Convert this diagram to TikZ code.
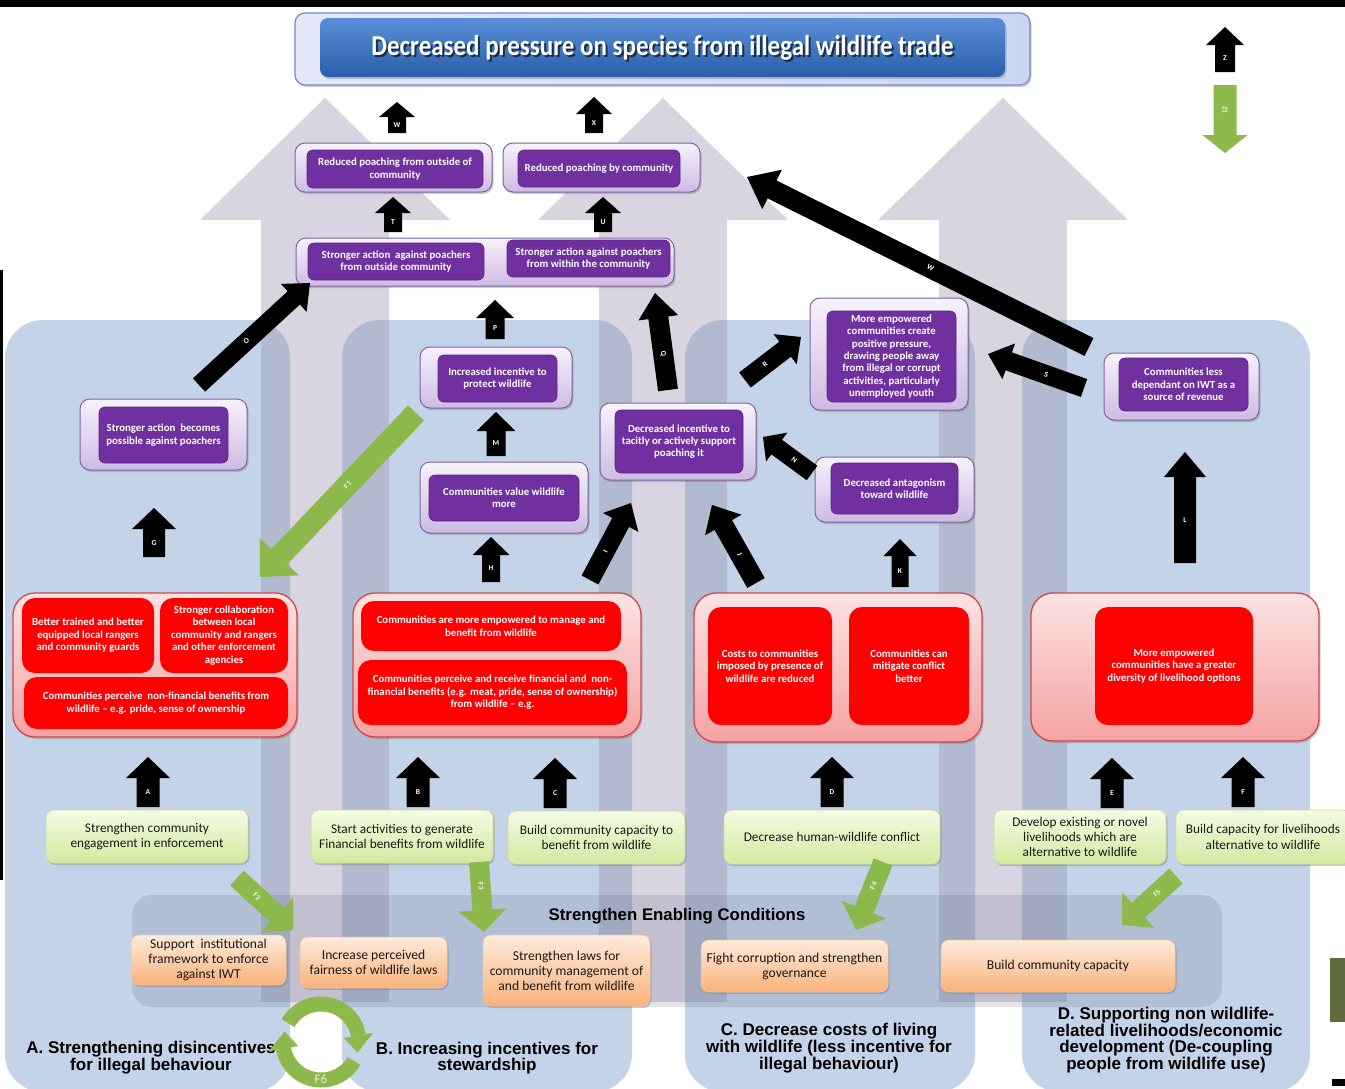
\documentclass[tikz,border=0pt]{standalone}
\usepackage{fontspec}
\usepackage{graphicx}
\setmainfont{Carlito}
\newfontfamily\arialfont{Liberation Sans}
\usetikzlibrary{calc,shadows}
\definecolor{greyarrow}{HTML}{D8D4E0}
\definecolor{panelblue}{HTML}{C3D4E8}
\definecolor{paneldark}{HTML}{B1BACE}
\definecolor{purp}{HTML}{7030A0}
\definecolor{purpdark}{HTML}{5A2582}
\definecolor{purpframe}{HTML}{8064A2}
\definecolor{lavtop}{HTML}{F7F2FC}
\definecolor{lavbot}{HTML}{CDBBE3}
\definecolor{redframe}{HTML}{D0484A}
\definecolor{pinktop}{HTML}{FCE2E2}
\definecolor{pinkbot}{HTML}{F5A3A3}
\definecolor{grtop}{HTML}{F4FBE4}
\definecolor{grbot}{HTML}{D2EAA0}
\definecolor{grline}{HTML}{C9DF9E}
\definecolor{ortop}{HTML}{FDEBDC}
\definecolor{orbot}{HTML}{F9B27A}
\definecolor{orline}{HTML}{F3C9A0}
\definecolor{fgreen}{HTML}{8DB94C}
\definecolor{olivebar}{HTML}{5F6B3A}
\definecolor{titletop}{HTML}{5A8ED6}
\definecolor{titlebot}{HTML}{2B5EAA}
\definecolor{tframeL}{HTML}{E4E8F9}
\definecolor{tframeR}{HTML}{CCD6F3}
\definecolor{tframeD}{HTML}{6D8CCB}
\definecolor{enabfill}{HTML}{464664}
\newcommand\fPur{\fontsize{10.8}{12.3}\selectfont\bfseries}
\newcommand\fRed{\fontsize{10.8}{12.5}\selectfont\bfseries}
\newcommand\fGrn{\fontsize{13.3}{15.3}\selectfont}
\newcommand\fOrg{\fontsize{13.6}{15}\selectfont}
\newcommand\fLab{\arialfont\bfseries\fontsize{17}{16.8}\selectfont}
\newcommand\fEnb{\arialfont\bfseries\fontsize{16.8}{18}\selectfont}
\newcommand\fLet{\fontsize{7.5}{8}\selectfont\bfseries}
\newcommand\fTit{\fontsize{25}{28}\selectfont\bfseries}
\newcommand\mkbox[7]{%
 \pgfmathsetmacro\mbw{#5-#3}\pgfmathsetmacro\mbh{#6-#4}%
 \pgfmathsetmacro\mbx{(#3+#5)/2}\pgfmathsetmacro\mby{(#4+#6)/2}%
 \node[#1, minimum width=\mbw pt, minimum height=\mbh pt] (#2) at (\mbx,\mby) {#7};}
\newcommand\mkarrow[9]{%
 \coordinate (#2t) at #3; \coordinate (#2h) at #4;
 \coordinate (#2b) at ($(#2h)!#7pt!(#2t)$);
 \fill[#1] ($(#2t)!#5pt!90:(#2h)$) -- ($(#2b)!#5pt!90:(#2h)$) -- ($(#2b)!#6pt!90:(#2h)$) -- (#2h)
   -- ($(#2b)!#6pt!-90:(#2h)$) -- ($(#2b)!#5pt!-90:(#2h)$) -- ($(#2t)!#5pt!-90:(#2h)$) -- cycle;
 \path (#2t) -- (#2b) node[midway, #8] (#2l) {#9};}
\begin{document}
\begin{tikzpicture}[x=1pt,y=-1pt,
  myshadow/.style={drop shadow={shadow xshift=1.5pt,shadow yshift=-2pt,opacity=0.35,fill=black!55}},
  pout/.style={draw=purpframe, line width=1pt, rounded corners=10pt, top color=lavtop, bottom color=lavbot, inner sep=0pt, myshadow},
  pin/.style={fill=purp, draw=purpdark, line width=0.6pt, rounded corners=6pt, text=white, font=\fPur, align=center, inner sep=0pt},
  rout/.style={draw=redframe, line width=1.3pt, rounded corners=22pt, top color=pinktop, bottom color=pinkbot, inner sep=0pt, myshadow},
  rin/.style={fill=red, rounded corners=13pt, text=white, font=\fRed, align=center, inner sep=0pt},
  gbox/.style={draw=grline, line width=0.6pt, rounded corners=8pt, top color=grtop, bottom color=grbot, text=black!90, font=\fGrn, align=center, inner sep=0pt, myshadow},
  obox/.style={draw=orline, line width=0.5pt, rounded corners=8pt, top color=ortop, bottom color=orbot, text=black!90, font=\fOrg, align=center, inner sep=0pt, myshadow},
  tout/.style={draw=tframeD, line width=1.2pt, rounded corners=10pt, left color=tframeL, right color=tframeR, inner sep=0pt, myshadow},
  tin/.style={rounded corners=8pt, top color=titletop, bottom color=titlebot, inner sep=0pt, myshadow},
  lab/.style={font=\fLab, align=center, inner sep=0pt},
  lbl/.style={text=white, font=\fLet, inner sep=0pt},
  glbl/.style={text=white!85!fgreen, font=\fLet, inner sep=0pt}
]
\useasboundingbox (0,0) rectangle (1345,1088);
\fill[white] (0,0) rectangle (1345,1088);
\fill[black] (0,0) rectangle (1345,7);
\fill[black] (0,270) rectangle (3,880);
% background grey arrows
\foreach \c in {325,663,1003}{
  \fill[greyarrow] (\c-64,1002) -- (\c-64,220) -- (\c-125,220) -- (\c,98) -- (\c+125,220) -- (\c+64,220) -- (\c+64,1002) -- cycle;}
% panels
\foreach \xa/\xb in {5/290,342/632,685/975,1022/1310}{
  \fill[panelblue, rounded corners=38pt] (\xa,320) rectangle (\xb,1092);
  \begin{scope}
    \clip[rounded corners=38pt] (\xa,320) rectangle (\xb,1092);
    \foreach \c in {325,663,1003}{\fill[paneldark] (\c-64,300) rectangle (\c+64,1002);}
  \end{scope}}
% enabling conditions panel
\fill[enabfill, fill opacity=0.14, rounded corners=20pt] (132,895) rectangle (1222,1007);
\node[font=\fEnb, inner sep=0pt] (enabt) at (677,916) {Strengthen Enabling Conditions};
% title
\mkbox{tout}{tOut}{295}{13}{1030}{85}{}
\mkbox{tin}{tIn}{320}{18}{1005}{77}{}
\node[font=\fTit, text=black, opacity=0.6, inner sep=0pt] (tsh) at (664.5,50) {\scalebox{1}[1.15]{Decreased pressure on species from illegal wildlife trade}};
\node[font=\fTit, text=white, inner sep=0pt] (ttext) at (662.5,48) {\scalebox{1}[1.15]{Decreased pressure on species from illegal wildlife trade}};
% purple result boxes
\mkbox{pout}{rpoO}{295}{143}{492}{192}{}
\mkbox{pin}{rpo}{307}{150}{483}{188}{Reduced poaching from outside of\\community}
\mkbox{pout}{rpcO}{503}{143}{700}{192}{}
\mkbox{pin}{rpc}{518}{150}{680}{187}{Reduced poaching by community}
\mkbox{pout}{saO}{296}{238}{674}{286}{}
\mkbox{pin}{sao}{308}{243}{484}{280}{Stronger action\ \ against poachers\\from outside community}
\mkbox{pin}{saw}{507}{240}{670}{277}{Stronger action against poachers\\from within the community}
\mkbox{pout}{sapO}{80}{399}{247}{470}{}
\mkbox{pin}{sap}{99}{407}{228}{463}{Stronger action\ \ becomes\\possible against poachers}
\mkbox{pout}{iipO}{420}{347}{572}{408}{}
\mkbox{pin}{iip}{438}{355}{557}{402}{Increased incentive to\\protect wildlife}
\mkbox{pout}{cvwO}{420}{462}{588}{533}{}
\mkbox{pin}{cvw}{429}{475}{579}{521}{Communities value wildlife\\more}
\mkbox{pout}{disO}{600}{403}{756}{480}{}
\mkbox{pin}{dis}{615}{410}{743}{473}{Decreased incentive to\\tacitly or actively support\\poaching it}
\mkbox{pout}{mecO}{810}{298}{968}{410}{}
\mkbox{pin}{mec}{827}{311}{956}{402}{More empowered\\communities create\\positive pressure,\\drawing people away\\from illegal or corrupt\\activities, particularly\\unemployed youth}
\mkbox{pout}{dawO}{815}{457}{974}{522}{}
\mkbox{pin}{daw}{831}{463}{958}{514}{Decreased antagonism\\toward wildlife}
\mkbox{pout}{cldO}{1104}{353}{1259}{420}{}
\mkbox{pin}{cld}{1119}{358}{1248}{411}{Communities less\\dependant on IWT as a\\source of revenue}
% red outcome groups
\mkbox{rout}{rA}{13}{593}{297}{737}{}
\mkbox{rin}{rA1}{22}{598}{154}{673}{Better trained and better\\equipped local rangers\\and community guards}
\mkbox{rin}{rA2}{160}{598}{288}{673}{Stronger collaboration\\between local\\community and rangers\\and other enforcement\\agencies}
\mkbox{rin}{rA3}{24}{677}{288}{729}{Communities perceive\ \ non-financial benefits from\\wildlife -- e.g. pride, sense of ownership}
\mkbox{rout}{rB}{353}{593}{641}{737}{}
\mkbox{rin}{rB1}{361}{601}{621}{651}{Communities are more empowered to manage and\\benefit from wildlife}
\mkbox{rin}{rB2}{358}{660}{627}{725}{Communities perceive and receive financial and\ \ non-\\financial benefits (e.g. meat, pride, sense of ownership)\\from wildlife -- e.g.}
\mkbox{rout}{rC}{694}{593}{982}{742}{}
\mkbox{rin}{rC1}{708}{607}{832}{725}{Costs to communities\\imposed by presence of\\wildlife are reduced}
\mkbox{rin}{rC2}{849}{607}{969}{725}{Communities can\\mitigate conflict\\better}
\mkbox{rout}{rD}{1031}{593}{1319}{741}{}
\mkbox{rin}{rD1}{1095}{607}{1253}{725}{More empowered\\communities have a greater\\diversity of livelihood options}
% green actions
\mkbox{gbox}{g1}{46}{810}{248}{863}{Strengthen community\\engagement in enforcement}
\mkbox{gbox}{g2}{311}{810}{493}{863}{Start activities to generate\\Financial benefits from wildlife}
\mkbox{gbox}{g3}{508}{811}{685}{864}{Build community capacity to\\benefit from wildlife}
\mkbox{gbox}{g4}{724}{810}{940}{864}{Decrease human-wildlife conflict}
\mkbox{gbox}{g5}{994}{810}{1166}{864}{Develop existing or novel\\livelihoods which are\\alternative to wildlife}
\mkbox{gbox}{g6}{1176}{810}{1350}{864}{Build capacity for livelihoods\\alternative to wildlife}
% orange enabling conditions
\mkbox{obox}{o1}{131}{935}{286}{985}{Support\ \ institutional\\framework to enforce\\against IWT}
\mkbox{obox}{o2}{300}{937}{447}{988}{Increase perceived\\fairness of wildlife laws}
\mkbox{obox}{o3}{483}{935}{650}{1006}{Strengthen laws for\\community management of\\and benefit from wildlife}
\mkbox{obox}{o4}{701}{940}{888}{992}{Fight corruption and strengthen\\governance}
\mkbox{obox}{o5}{941}{940}{1175}{992}{Build community capacity}
% panel labels
\node[lab] (labA) at (151,1058) {A. Strengthening disincentives\\for illegal behaviour};
\node[lab] (labB) at (487,1058) {B. Increasing incentives for\\stewardship};
\node[lab] (labC) at (829,1048) {C. Decrease costs of living\\with wildlife (less incentive for\\illegal behaviour)};
\node[lab] (labD) at (1166,1040) {D. Supporting non wildlife-\\related livelihoods/economic\\development (De-coupling\\people from wildlife use)};
% F6 cycle
\coordinate (ringc) at (321,1042);
\draw[fgreen, line width=15pt] plot[domain=150:10, samples=40] ({321+38*cos(\x)},{1042-38*sin(\x)});
\fill[fgreen] ({321+53*cos(10)},{1042-53*sin(10)}) -- ({321+23*cos(10)},{1042-23*sin(10)}) -- ({321+38*cos(-16)},{1042-38*sin(-16)}) -- cycle;
\draw[fgreen, line width=15pt] plot[domain=-30:-170, samples=40] ({321+38*cos(\x)},{1042-38*sin(\x)});
\fill[fgreen] ({321+53*cos(-170)},{1042-53*sin(-170)}) -- ({321+23*cos(-170)},{1042-23*sin(-170)}) -- ({321+38*cos(-196)},{1042-38*sin(-196)}) -- cycle;
\node[text=white!80!fgreen, font=\fontsize{13}{14}\selectfont, inner sep=0pt] (f6) at (321,1079) {F6};
% black block arrows
\mkarrow{black}{aA}{(148,807)}{(148,757)}{11.5}{22}{21}{lbl}{A}
\mkarrow{black}{aB}{(418,807)}{(418,757)}{11.5}{22}{21}{lbl}{B}
\mkarrow{black}{aC}{(555,808)}{(555,758)}{11.5}{22}{21}{lbl}{C}
\mkarrow{black}{aD}{(832,807)}{(832,757)}{11.5}{22}{21}{lbl}{D}
\mkarrow{black}{aE}{(1112,808)}{(1112,758)}{11.5}{22}{21}{lbl}{E}
\mkarrow{black}{aF}{(1243,807)}{(1243,757)}{11.5}{22}{21}{lbl}{F}
\mkarrow{black}{aG}{(154,557)}{(154,508)}{11}{22}{21}{lbl}{G}
\mkarrow{black}{aH}{(491,582)}{(491,537)}{9}{18.5}{18}{lbl}{H}
\mkarrow{black}{aK}{(900,587)}{(900,539)}{8.5}{16.5}{17}{lbl}{K}
\mkarrow{black}{aL}{(1185,563)}{(1185,452)}{11}{21}{25}{lbl}{L}
\mkarrow{black}{aM}{(496,456)}{(496,412)}{9.5}{19.5}{19}{lbl}{M}
\mkarrow{black}{aP}{(495,339)}{(495,300)}{9.5}{19}{18}{lbl}{P}
\mkarrow{black}{aT}{(393,232)}{(393,197)}{9}{18}{16}{lbl}{T}
\mkarrow{black}{aU}{(603,232)}{(603,197)}{9}{18}{16}{lbl}{U}
\mkarrow{black}{aW}{(397,133)}{(397,102)}{9}{18}{15}{lbl}{W}
\mkarrow{black}{aX}{(594,133)}{(594,97)}{9}{18}{17}{lbl}{X}
\mkarrow{black}{aZ}{(1225,72)}{(1225,27)}{10}{19}{18}{lbl}{Z}
\mkarrow{black}{aO}{(199,385)}{(310,283)}{9}{19}{22}{lbl,sloped}{O}
\mkarrow{black}{aQ}{(668,390)}{(655,293)}{10}{20}{25}{lbl,sloped}{Q}
\mkarrow{black}{aI}{(590,580)}{(631,503)}{9.5}{20}{22}{lbl,sloped}{I}
\mkarrow{black}{aJ}{(756,583)}{(712,505)}{10}{21}{23}{lbl,sloped}{J}
\mkarrow{black}{aN}{(812,473)}{(763,437)}{9}{18}{17}{lbl,sloped}{N}
\mkarrow{black}{aR}{(745,380)}{(801,337)}{9.5}{19}{20}{lbl,sloped}{R}
\mkarrow{black}{aS}{(1084,388)}{(988,354)}{9.5}{19}{22}{lbl,sloped}{S}
\mkarrow{black}{aV}{(1089,347)}{(747,177)}{10}{22}{28}{lbl,sloped}{W}
% green feedback arrows
\mkarrow{fgreen}{gZ}{(1225,85)}{(1225,153)}{11.5}{22.5}{18}{glbl,sloped,allow upside down}{Z1}
\mkarrow{fgreen}{gF1}{(416,413)}{(260,577)}{11}{27}{28}{glbl,sloped}{F1}
\mkarrow{fgreen}{gF2}{(237,878)}{(293,930)}{10}{24}{22}{glbl,sloped}{F2}
\mkarrow{fgreen}{gF3}{(479,862)}{(484,932)}{10}{24}{22}{glbl,sloped}{F3}
\mkarrow{fgreen}{gF4}{(883,862)}{(856,930)}{10}{24}{22}{glbl,sloped}{F4}
\mkarrow{fgreen}{gF5}{(1176,876)}{(1122,925)}{10}{24}{22}{glbl,sloped}{F5}
% right-edge marks
\fill[olivebar] (1330,958) rectangle (1345,1022);
\fill[black] (1332,1079) rectangle (1345,1086);
\end{tikzpicture}
\end{document}
